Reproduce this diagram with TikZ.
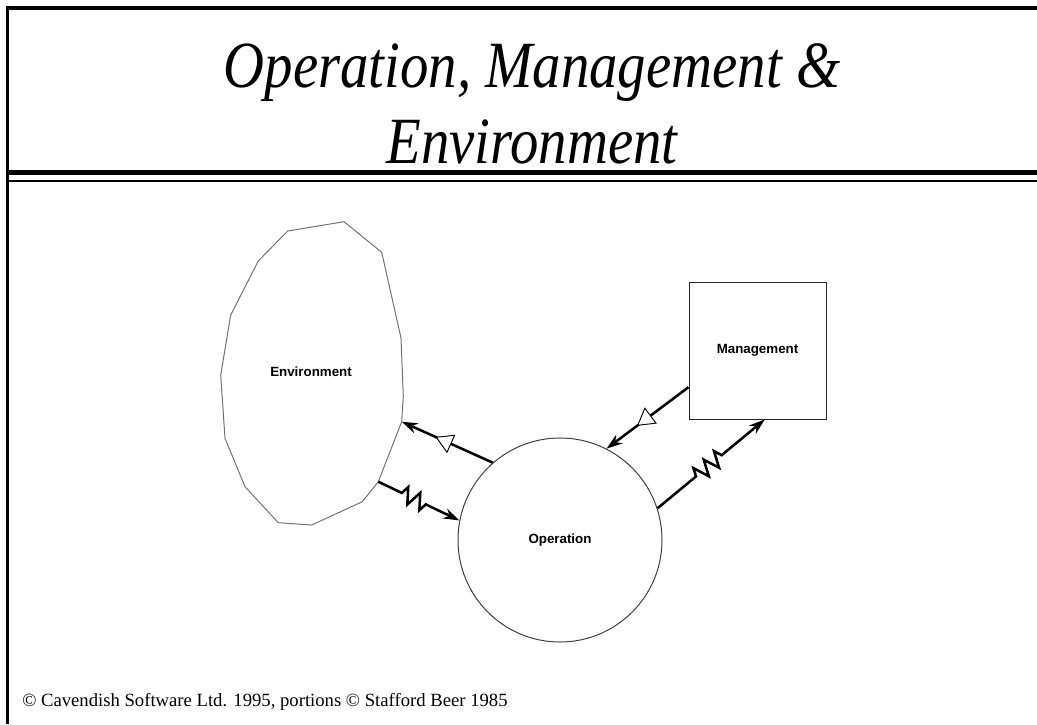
\documentclass[tikz,border=0pt]{standalone}
\usepackage{fontspec}
\setmainfont{Liberation Serif}
\setsansfont{Liberation Sans}
\usetikzlibrary{arrows.meta,decorations.pathmorphing,decorations.markings}

\begin{document}
\begin{tikzpicture}[x=0.75pt,y=-0.75pt,>={Stealth[length=12pt,width=8pt]},
    heading/.style={anchor=base,inner sep=0,font=\itshape\fontsize{49.5}{50}\selectfont},
    sysname/.style={inner sep=0,font=\sffamily\bfseries\fontsize{10}{12}\selectfont},
    link/.style={line width=1.9pt,->},
    valve/.style={postaction={decorate},decoration={markings,
      mark=at position 0.63 with {\arrow{Triangle[length=13pt,width=15pt,fill=white,line width=0.7pt]}}}},
    spring/.style 2 args={decorate,decoration={zigzag,amplitude=6pt,segment length=10pt,
      pre length=#1,post length=#2}}]
  \useasboundingbox (0,0) rectangle (1037,724);

  \draw[line width=2.6pt] (6,8) -- (1037,8);
  \draw[line width=2.3pt] (7.5,6.5) -- (7.5,724);
  \draw[line width=3.8pt] (6,172.5) -- (1037,172.5);
  \draw[line width=1.9pt] (9,181) -- (1037,181);

  \node[heading] (title1) at (532,87) {\scalebox{0.86}[1]{Operation, Management \&}};
  \node[heading] (title2) at (532,163) {\scalebox{0.86}[1]{Environment}};

  \draw[draw=black!55,line width=0.75pt] (287.7,231) -- (344,221.7) -- (381.7,252.3)
    -- (401,338) -- (403.3,396.7) -- (401.7,421.7) coordinate (envA)
    -- (378.3,481.7) coordinate (envB) -- (362.3,501.7) -- (311.7,525)
    -- (278.3,522.7) -- (245,486.7) -- (225,438.3) -- (220.7,375)
    -- (230.7,315) -- (258.3,261) -- cycle;
  \node[sysname] (env) at (311,371.7) {Environment};

  \node[sysname,draw=black!75,line width=0.75pt,circle,minimum size=153pt] (op) at (560,540) {Operation};
  \node[sysname,draw=black!85,line width=0.75pt,minimum width=102.75pt,minimum height=102.75pt] (mgmt)
    at (757.5,350.5) {Management};

  \draw[link,valve] (op.131) -- (envA);
  \draw[link,valve] (mgmt.208.9) -- (op.63.3);
  \draw[link,spring={19.5pt}{27.75pt}] (envB) -- (op.169.6);
  \draw[link,spring={37.5pt}{39pt}] (op.18.2) -- (mgmt.276.8);

  \node[anchor=base west,inner sep=0,font=\fontsize{14}{16}\selectfont] (credit) at (22,706)
    {© Cavendish Software Ltd. 1995, portions © Stafford Beer 1985};
\end{tikzpicture}
\end{document}
